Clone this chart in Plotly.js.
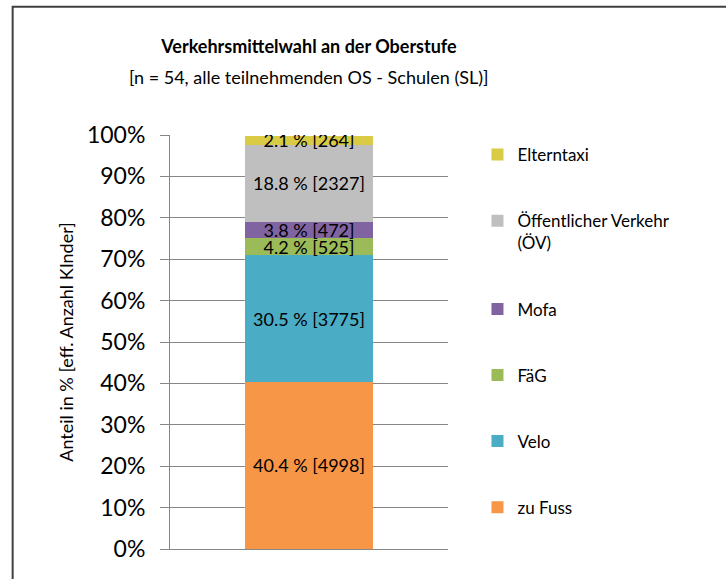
<!DOCTYPE html>
<html>
<head>
<meta charset="utf-8">
<script src="https://cdn.plot.ly/plotly-3.0.1.min.js"></script>
<style>html,body{margin:0;padding:0;background:#fff;}#chart{width:726px;height:579px;}</style>
</head>
<body>
<div id="chart"></div>
<script>
const categories = [''];
const seriesNames = ['zu Fuss', 'Velo', 'FäG', 'Mofa', 'Öffentlicher Verkehr<br>(ÖV)', 'Elterntaxi'];
const seriesPercent = [40.4, 30.5, 4.2, 3.8, 18.8, 2.1];
const seriesCounts = [4998, 3775, 525, 472, 2327, 264];
const seriesColors = ['#F79646', '#4BACC6', '#9BBB59', '#8064A2', '#BFBFBF', '#D9CB43'];
const yTickValues = [0, 10, 20, 30, 40, 50, 60, 70, 80, 90, 100];
const chartTitle = 'Verkehrsmittelwahl an der Oberstufe';
const chartSubtitle = '[n = 54, alle teilnehmenden OS - Schulen (SL)]';
const yAxisTitle = 'Anteil in % [eff. Anzahl KInder]';

const FONT = 'Lato, "Open Sans", sans-serif';
const grid = '#868686';
const n = seriesNames.length;

const traces = seriesNames.map((name, i) => ({
  type: 'bar',
  name: name,
  x: categories,
  y: [seriesPercent[i]],
  text: [seriesPercent[i].toFixed(1) + ' % [' + seriesCounts[i] + ']'],
  textposition: 'inside',
  insidetextanchor: 'middle',
  textangle: 0,
  constraintext: 'none',
  textfont: {family: FONT, size: 18, color: '#000'},
  marker: {color: seriesColors[i], line: {width: 0}},
  width: 0.457,
  legendgroup: 'g' + i,
  legendrank: (n - i) * 10,
  hoverinfo: 'skip'
}));

const layout = {
  width: 726, height: 579,
  margin: {l: 170, r: 278, t: 135, b: 30},
  paper_bgcolor: '#fff', plot_bgcolor: '#fff',
  barmode: 'stack',
  font: {family: FONT, color: '#000'},
  uniformtext: {mode: 'show', minsize: 18},
  title: {
    text: '<b>' + chartTitle + '</b>',
    font: {family: FONT, size: 18, color: '#000'},
    x: 0.5, xref: 'paper', xanchor: 'center',
    y: 1 - 47 / 579, yref: 'container', yanchor: 'middle'
  },
  annotations: [{
    text: chartSubtitle,
    xref: 'paper', yref: 'paper', x: 0.5, y: 1.14,
    xanchor: 'center', yanchor: 'middle', showarrow: false,
    font: {family: FONT, size: 18, color: '#000'}
  }],
  xaxis: {
    type: 'category',
    range: [-0.5, 0.5],
    showticklabels: false,
    ticks: '',
    showline: true, linecolor: grid, linewidth: 1,
    showgrid: false, zeroline: false, fixedrange: true
  },
  yaxis: {
    range: [0, 100],
    tickvals: yTickValues,
    ticktext: yTickValues.map(v => v + '%'),
    ticks: 'outside', ticklen: 9, tickcolor: grid, tickwidth: 1,
    ticklabelstandoff: 10,
    showline: true, linecolor: grid, linewidth: 1,
    showgrid: true, gridcolor: grid, gridwidth: 1,
    zeroline: false,
    tickfont: {family: FONT, size: 23, color: '#000'},
    title: {text: yAxisTitle, font: {family: FONT, size: 18, color: '#000'}, standoff: 8},
    fixedrange: true
  },
  showlegend: true,
  legend: {
    traceorder: 'grouped',
    tracegroupgap: 41,
    valign: 'top',
    x: 1.106, xanchor: 'left',
    y: 0.995, yanchor: 'top',
    font: {family: FONT, size: 17, color: '#000'},
    bgcolor: 'rgba(0,0,0,0)'
  },
  shapes: [{
    type: 'rect', xref: 'paper', yref: 'paper',
    x0: -0.566, x1: 2.2, y0: -0.2, y1: 1.31,
    line: {color: '#404040', width: 2}, fillcolor: 'rgba(0,0,0,0)', layer: 'below'
  }]
};

Plotly.newPlot('chart', traces, layout, {staticPlot: true, displayModeBar: false});
</script>
</body>
</html>
